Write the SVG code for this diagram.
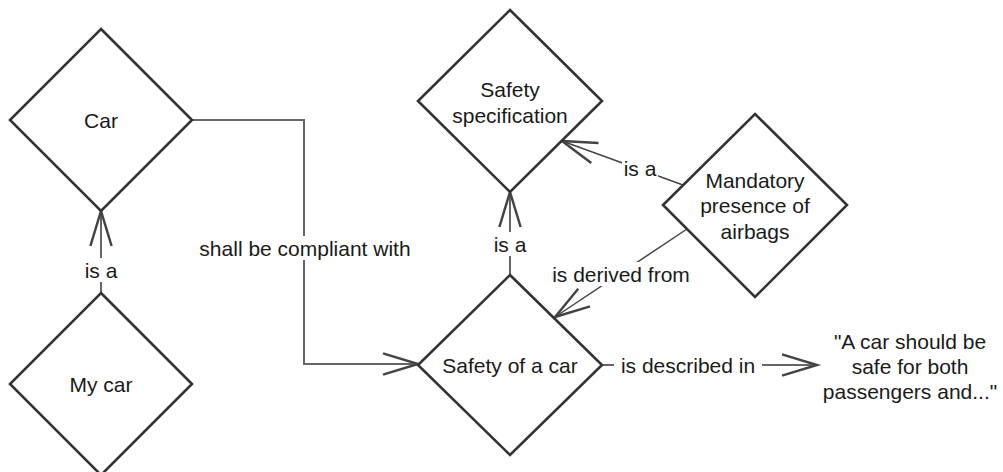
<svg xmlns="http://www.w3.org/2000/svg" width="1003" height="472" viewBox="0 0 1003 472">
<style>
.node{fill:#fff;stroke:#333;stroke-width:2.6}
.edge{fill:none;stroke:#666;stroke-width:2}
.diag{fill:none;stroke:#444;stroke-width:1.5}
.t{font-family:"Liberation Sans",Arial,sans-serif;font-size:21px;fill:#1a1a1a;text-anchor:middle;dominant-baseline:central}
.bg{fill:#fff}
</style>
<defs>
<marker id="open" markerUnits="userSpaceOnUse" markerWidth="40" markerHeight="30" refX="0" refY="0" viewBox="-30 -12 32 24" orient="auto" overflow="visible">
<path d="M-28,-8.5 L0,0 L-28,8.5" fill="none" stroke="#444" stroke-width="2"/>
</marker>
</defs>
<g id="connectors">
<g id="edge-mycar-car">
<path class="edge" d="M101,293 L101,211" marker-end="url(#open)"/>
<rect class="bg" x="84" y="258" width="34" height="24"/>
<text class="t" x="101" y="270">is a</text>
</g>
<g id="edge-car-safety">
<path class="edge" d="M193,120 L304,120 L304,364 L418,364" marker-end="url(#open)"/>
<rect class="bg" x="194" y="236" width="222" height="24"/>
<text class="t" x="305" y="248">shall be compliant with</text>
</g>
<g id="edge-safety-spec">
<path class="edge" d="M510,275 L510,192" marker-end="url(#open)"/>
<rect class="bg" x="493" y="232" width="34" height="24"/>
<text class="t" x="510" y="244">is a</text>
</g>
<g id="edge-mandatory-spec">
<path class="diag" d="M683,185 L562,141" marker-end="url(#open)"/>
<rect class="bg" x="622" y="156" width="36" height="24"/>
<text class="t" x="640" y="168">is a</text>
</g>
<g id="edge-mandatory-safety">
<path class="diag" d="M687,229 L555,317" marker-end="url(#open)"/>
<rect class="bg" x="548" y="262" width="146" height="24"/>
<text class="t" x="621" y="274">is derived from</text>
</g>
<g id="edge-safety-text">
<path class="edge" d="M602,365 L817,365" marker-end="url(#open)"/>
<rect class="bg" x="614" y="353" width="148" height="24"/>
<text class="t" x="688" y="365">is described in</text>
</g>
</g>
<g id="car">
<path class="node" d="M101,29 L192,120 L101,211 L10,120 Z"/>
<text class="t" x="101" y="120">Car</text>
</g>
<g id="my-car">
<path class="node" d="M101,293 L192,384 L101,475 L10,384 Z"/>
<text class="t" x="101" y="384">My car</text>
</g>
<g id="safety-spec">
<path class="node" d="M510,10 L602,101 L510,192 L418,101 Z"/>
<text class="t" x="510" y="89">Safety</text>
<text class="t" x="510" y="115">specification</text>
</g>
<g id="mandatory-airbags">
<path class="node" d="M755,114 L847,205 L755,297 L663,205 Z"/>
<text class="t" x="755" y="180">Mandatory</text>
<text class="t" x="755" y="205">presence of</text>
<text class="t" x="755" y="231">airbags</text>
</g>
<g id="safety-of-car">
<path class="node" d="M510,275 L602,365 L510,455 L418,365 Z"/>
<text class="t" x="510" y="365">Safety of a car</text>
</g>
<g id="text-node">
<text class="t" x="910" y="341">"A car should be</text>
<text class="t" x="910" y="366">safe for both</text>
<text class="t" x="910" y="391">passengers and..."</text>
</g>
</svg>
